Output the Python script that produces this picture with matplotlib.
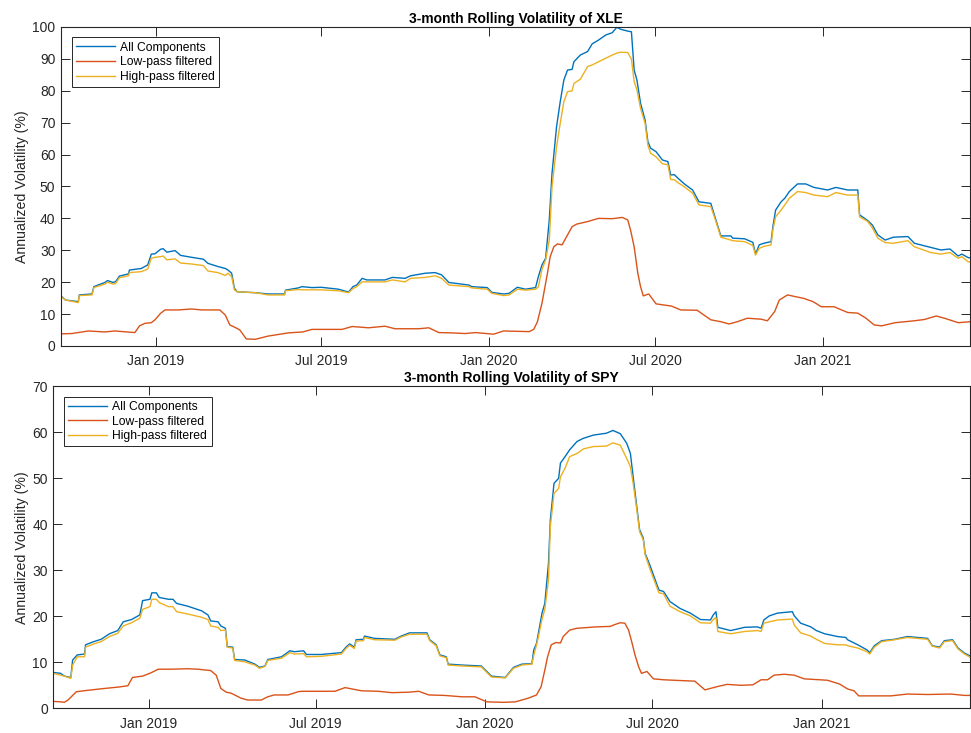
import pandas as pd
import matplotlib
matplotlib.use("Agg")
import matplotlib.pyplot as plt
import matplotlib.dates as mdates

plt.rcParams["font.family"] = ["Liberation Sans", "DejaVu Sans"]

# ---- XLE: all components / high-pass share the same dates ----
xle_dates = [
    "2018-09-19", "2018-09-24", "2018-10-08", "2018-10-09", "2018-10-23", "2018-10-25",
    "2018-11-06", "2018-11-09", "2018-11-15", "2018-11-18", "2018-11-22", "2018-12-02",
    "2018-12-03", "2018-12-16", "2018-12-23", "2018-12-27", "2018-12-31", "2019-01-06",
    "2019-01-09", "2019-01-13", "2019-01-22", "2019-01-28", "2019-02-09", "2019-02-22",
    "2019-02-27", "2019-03-10", "2019-03-18", "2019-03-21", "2019-03-25", "2019-03-28",
    "2019-03-31", "2019-04-20", "2019-05-04", "2019-05-22", "2019-05-23", "2019-06-06",
    "2019-06-10", "2019-06-21", "2019-07-01", "2019-07-20", "2019-07-31", "2019-08-05",
    "2019-08-09", "2019-08-15", "2019-08-20", "2019-09-09", "2019-09-17", "2019-10-01",
    "2019-10-07", "2019-10-23", "2019-11-03", "2019-11-10", "2019-11-18", "2019-12-10",
    "2019-12-13", "2019-12-30", "2020-01-04", "2020-01-17", "2020-01-23", "2020-02-01",
    "2020-02-10", "2020-02-21", "2020-02-24", "2020-02-28", "2020-03-03", "2020-03-07",
    "2020-03-10", "2020-03-15", "2020-03-19", "2020-03-23", "2020-03-27", "2020-04-01",
    "2020-04-03", "2020-04-10", "2020-04-18", "2020-04-23", "2020-04-30", "2020-05-08",
    "2020-05-15", "2020-05-20", "2020-05-24", "2020-06-01", "2020-06-05", "2020-06-08",
    "2020-06-11", "2020-06-15", "2020-06-20", "2020-06-23", "2020-06-26", "2020-07-02",
    "2020-07-09", "2020-07-15", "2020-07-18", "2020-07-22", "2020-07-26", "2020-08-02",
    "2020-08-11", "2020-08-18", "2020-08-31", "2020-09-05", "2020-09-11", "2020-09-22",
    "2020-09-24", "2020-10-07", "2020-10-16", "2020-10-19", "2020-10-23", "2020-10-28",
    "2020-11-05", "2020-11-07", "2020-11-10", "2020-11-16", "2020-11-20", "2020-11-25",
    "2020-12-04", "2020-12-13", "2020-12-22", "2021-01-06", "2021-01-15", "2021-01-28",
    "2021-02-08", "2021-02-10", "2021-02-19", "2021-02-24", "2021-03-02", "2021-03-10",
    "2021-03-19", "2021-04-04", "2021-04-11", "2021-04-29", "2021-05-10", "2021-05-20",
    "2021-05-29", "2021-06-02", "2021-06-09", "2021-06-11",
]
xle_all = [
    15.7, 14.4, 13.9, 16.0, 16.3, 18.6, 19.9, 20.5, 19.9, 20.2, 21.9, 22.6,
    23.8, 24.3, 25.4, 28.8, 28.9, 30.3, 30.5, 29.4, 29.9, 28.4, 27.8, 27.2,
    25.9, 24.9, 24.3, 23.8, 22.8, 18.1, 17.0, 16.7, 16.3, 16.3, 17.5, 18.2,
    18.6, 18.3, 18.4, 17.8, 16.9, 18.6, 19.1, 21.2, 20.7, 20.7, 21.5, 21.2,
    22.0, 22.8, 23.0, 22.3, 19.9, 19.1, 18.6, 18.3, 16.8, 16.3, 16.5, 18.4,
    17.8, 18.3, 21.7, 25.4, 27.5, 39.5, 54.1, 68.8, 76.6, 83.4, 86.5, 86.7,
    89.1, 91.2, 92.3, 94.7, 95.9, 97.5, 98.2, 99.9, 99.3, 98.7, 98.5, 86.5,
    83.4, 76.1, 70.8, 64.1, 62.0, 60.9, 58.3, 57.8, 53.6, 53.7, 52.6, 50.8,
    48.9, 45.2, 44.7, 40.0, 34.5, 34.5, 33.8, 33.6, 32.5, 28.8, 31.7, 32.2,
    32.7, 37.4, 42.6, 45.2, 46.3, 48.4, 50.8, 50.8, 49.7, 48.9, 49.7, 48.9,
    48.9, 41.1, 39.3, 37.9, 34.8, 33.2, 34.1, 34.3, 32.2, 30.9, 30.1, 30.4,
    28.2, 28.8, 27.7, 27.6,
]
xle_high = [
    15.5, 14.4, 13.6, 15.8, 16.0, 18.3, 19.4, 20.0, 19.4, 19.6, 21.4, 22.0,
    23.0, 23.3, 24.1, 27.5, 27.8, 28.0, 28.2, 27.0, 27.3, 26.0, 25.7, 25.2,
    23.5, 23.0, 22.1, 22.8, 21.7, 17.6, 17.0, 16.7, 16.0, 16.0, 17.3, 17.7,
    17.6, 17.6, 17.6, 17.3, 16.7, 18.0, 18.6, 20.1, 20.1, 20.1, 20.7, 20.1,
    21.2, 21.5, 22.0, 21.2, 19.1, 18.6, 18.2, 17.8, 16.5, 15.8, 16.0, 17.8,
    17.5, 17.8, 18.5, 24.0, 27.0, 33.2, 49.9, 62.5, 69.8, 76.6, 79.7, 80.0,
    82.3, 83.6, 87.6, 88.1, 89.1, 90.2, 91.2, 91.8, 92.1, 92.0, 89.9, 82.9,
    80.3, 74.5, 69.8, 63.0, 60.4, 59.3, 57.1, 56.8, 52.2, 52.1, 51.2, 49.9,
    47.9, 44.2, 43.7, 39.5, 34.1, 33.2, 33.0, 32.7, 31.5, 28.5, 30.6, 31.2,
    31.7, 36.4, 40.5, 42.6, 44.2, 46.3, 48.4, 48.1, 47.3, 46.8, 48.1, 47.3,
    47.3, 40.5, 39.0, 37.0, 33.8, 32.4, 32.2, 33.0, 31.1, 29.3, 28.8, 29.3,
    27.5, 28.0, 26.4, 26.3,
]
xle_low_dates = [
    "2018-09-19", "2018-10-01", "2018-10-19", "2018-11-06", "2018-11-17", "2018-12-09",
    "2018-12-14", "2018-12-20", "2018-12-27", "2018-12-31", "2019-01-06", "2019-01-11",
    "2019-01-26", "2019-02-09", "2019-02-20", "2019-03-12", "2019-03-18", "2019-03-23",
    "2019-03-31", "2019-04-03", "2019-04-10", "2019-04-20", "2019-05-04", "2019-05-26",
    "2019-06-11", "2019-06-21", "2019-07-24", "2019-08-04", "2019-08-22", "2019-09-09",
    "2019-09-20", "2019-10-16", "2019-10-27", "2019-11-07", "2019-11-21", "2019-12-06",
    "2019-12-17", "2020-01-06", "2020-01-17", "2020-02-14", "2020-02-19", "2020-02-23",
    "2020-02-28", "2020-03-05", "2020-03-08", "2020-03-12", "2020-03-16", "2020-03-21",
    "2020-03-27", "2020-04-01", "2020-04-06", "2020-04-18", "2020-04-30", "2020-05-15",
    "2020-05-26", "2020-06-01", "2020-06-04", "2020-06-08", "2020-06-12", "2020-06-15",
    "2020-06-18", "2020-06-24", "2020-07-02", "2020-07-19", "2020-07-29", "2020-08-16",
    "2020-08-31", "2020-09-11", "2020-09-20", "2020-09-29", "2020-10-10", "2020-10-25",
    "2020-11-01", "2020-11-09", "2020-11-14", "2020-11-23", "2020-12-11", "2020-12-21",
    "2020-12-30", "2021-01-13", "2021-01-28", "2021-02-08", "2021-02-17", "2021-02-26",
    "2021-03-06", "2021-03-21", "2021-04-11", "2021-04-22", "2021-05-05", "2021-05-14",
    "2021-05-29", "2021-06-11",
]
xle_low = [
    3.8, 3.9, 4.7, 4.4, 4.7, 4.2, 6.3, 7.1, 7.3, 8.2, 10.2, 11.3,
    11.3, 11.6, 11.3, 11.3, 9.7, 6.6, 5.5, 5.0, 2.2, 2.1, 3.1, 4.1,
    4.4, 5.2, 5.2, 6.1, 5.7, 6.2, 5.4, 5.4, 5.7, 4.2, 4.1, 3.9,
    4.2, 3.7, 4.7, 4.5, 5.2, 7.6, 13.4, 22.8, 28.0, 31.1, 32.0, 31.7,
    34.8, 37.4, 38.2, 39.0, 40.0, 39.9, 40.3, 39.5, 36.4, 31.1, 22.8, 18.6,
    15.7, 16.3, 13.2, 12.5, 11.3, 11.2, 8.2, 7.6, 6.9, 7.6, 8.7, 8.4,
    7.9, 10.8, 14.4, 16.0, 14.9, 13.9, 12.3, 12.3, 10.5, 10.3, 8.7, 6.6,
    6.3, 7.3, 7.9, 8.3, 9.4, 8.7, 7.3, 7.6,
]

# ---- SPY ----
spy_dates = [
    "2018-09-19", "2018-09-27", "2018-10-01", "2018-10-08", "2018-10-10", "2018-10-15",
    "2018-10-23", "2018-10-24", "2018-11-02", "2018-11-10", "2018-11-19", "2018-11-28",
    "2018-12-04", "2018-12-13", "2018-12-22", "2018-12-25", "2019-01-02", "2019-01-04",
    "2019-01-09", "2019-01-12", "2019-01-22", "2019-01-27", "2019-01-31", "2019-02-12",
    "2019-02-27", "2019-03-06", "2019-03-09", "2019-03-17", "2019-03-20", "2019-03-25",
    "2019-03-27", "2019-04-02", "2019-04-04", "2019-04-15", "2019-04-26", "2019-05-01",
    "2019-05-07", "2019-05-10", "2019-05-25", "2019-06-03", "2019-06-08", "2019-06-18",
    "2019-06-21", "2019-07-07", "2019-07-29", "2019-08-03", "2019-08-07", "2019-08-12",
    "2019-08-14", "2019-08-22", "2019-08-23", "2019-09-03", "2019-09-25", "2019-10-02",
    "2019-10-11", "2019-10-30", "2019-11-02", "2019-11-09", "2019-11-13", "2019-11-20",
    "2019-11-22", "2019-12-07", "2019-12-28", "2020-01-08", "2020-01-23", "2020-02-01",
    "2020-02-10", "2020-02-21", "2020-02-23", "2020-02-26", "2020-02-28", "2020-03-03",
    "2020-03-06", "2020-03-10", "2020-03-12", "2020-03-16", "2020-03-21", "2020-03-23",
    "2020-03-28", "2020-04-02", "2020-04-10", "2020-04-17", "2020-04-28", "2020-05-12",
    "2020-05-19", "2020-05-27", "2020-06-03", "2020-06-07", "2020-06-10", "2020-06-14",
    "2020-06-17", "2020-06-21", "2020-06-23", "2020-06-28", "2020-07-08", "2020-07-13",
    "2020-07-20", "2020-07-31", "2020-08-11", "2020-08-22", "2020-09-02", "2020-09-05",
    "2020-09-08", "2020-09-10", "2020-09-24", "2020-10-09", "2020-10-23", "2020-10-27",
    "2020-10-30", "2020-11-05", "2020-11-14", "2020-11-30", "2020-12-02", "2020-12-09",
    "2020-12-20", "2020-12-26", "2021-01-04", "2021-01-18", "2021-01-27", "2021-01-29",
    "2021-02-09", "2021-02-19", "2021-02-22", "2021-02-27", "2021-03-07", "2021-03-21",
    "2021-04-04", "2021-04-26", "2021-05-01", "2021-05-09", "2021-05-14", "2021-05-23",
    "2021-05-29", "2021-06-05", "2021-06-11",
]
spy_all = [
    7.8, 7.6, 7.0, 6.7, 10.5, 11.6, 11.8, 13.8, 14.5, 15.0, 16.2, 16.9,
    18.8, 19.3, 20.3, 23.4, 23.7, 25.1, 25.1, 24.1, 23.7, 23.7, 22.8, 22.2,
    21.2, 20.3, 19.0, 18.8, 17.9, 17.4, 13.4, 13.3, 10.6, 10.5, 9.6, 8.9,
    9.2, 10.6, 11.2, 12.5, 12.3, 12.5, 11.7, 11.7, 12.1, 13.3, 14.0, 13.3,
    14.9, 15.0, 15.7, 15.2, 15.0, 15.7, 16.4, 16.4, 14.9, 13.8, 11.6, 11.2,
    9.6, 9.4, 9.2, 7.0, 6.7, 8.9, 9.6, 9.7, 12.7, 14.1, 16.3, 20.7,
    22.8, 31.5, 40.9, 48.9, 50.0, 53.3, 54.7, 56.2, 58.0, 58.7, 59.4, 59.8,
    60.4, 59.7, 57.6, 55.4, 50.3, 43.8, 38.8, 37.0, 33.7, 31.2, 25.7, 25.4,
    23.2, 21.7, 20.7, 19.3, 19.2, 20.3, 21.0, 17.6, 16.9, 17.6, 17.7, 17.4,
    19.2, 20.1, 20.7, 21.0, 20.1, 18.5, 17.7, 16.9, 16.2, 15.6, 15.4, 14.9,
    13.8, 12.7, 12.1, 13.6, 14.7, 15.0, 15.6, 15.2, 13.6, 13.3, 14.7, 14.9,
    13.1, 12.0, 11.4,
]
spy_high = [
    7.6, 7.2, 7.0, 6.5, 9.4, 11.2, 11.2, 13.3, 14.0, 14.5, 15.6, 16.3,
    17.9, 18.6, 19.6, 21.5, 22.1, 23.7, 23.7, 23.0, 22.1, 22.1, 21.0, 20.5,
    19.8, 19.3, 17.9, 17.6, 16.9, 17.0, 13.3, 13.1, 10.4, 10.1, 9.4, 8.7,
    9.1, 10.4, 10.9, 12.1, 11.8, 11.9, 11.2, 11.3, 11.8, 13.0, 13.7, 13.0,
    14.6, 14.7, 15.4, 14.9, 14.8, 15.5, 16.1, 16.1, 14.7, 13.6, 11.4, 11.0,
    9.4, 9.2, 9.0, 6.8, 6.6, 8.7, 9.4, 9.6, 11.5, 13.8, 15.5, 19.4,
    21.5, 27.9, 39.5, 46.7, 47.8, 50.3, 52.2, 54.7, 55.4, 56.4, 56.9, 57.0,
    57.7, 57.2, 54.3, 52.5, 48.9, 43.1, 38.4, 36.6, 33.4, 30.4, 25.1, 24.9,
    22.2, 21.0, 20.1, 18.6, 18.5, 19.3, 19.7, 16.7, 16.2, 16.7, 16.9, 16.7,
    18.5, 18.8, 19.2, 19.4, 18.1, 16.4, 15.7, 15.0, 14.1, 13.8, 13.8, 13.6,
    13.1, 12.3, 11.8, 13.3, 14.5, 14.9, 15.4, 15.0, 13.5, 13.1, 14.5, 14.7,
    12.9, 11.8, 11.1,
]
spy_low_dates = [
    "2018-09-19", "2018-09-27", "2018-10-01", "2018-10-05", "2018-10-14", "2018-10-26",
    "2018-11-13", "2018-11-28", "2018-12-09", "2018-12-14", "2018-12-25", "2019-01-03",
    "2019-01-11", "2019-01-25", "2019-02-12", "2019-02-23", "2019-03-09", "2019-03-15",
    "2019-03-20", "2019-03-26", "2019-03-31", "2019-04-11", "2019-04-18", "2019-05-03",
    "2019-05-10", "2019-05-17", "2019-06-01", "2019-06-12", "2019-06-16", "2019-07-22",
    "2019-08-02", "2019-08-20", "2019-09-07", "2019-09-22", "2019-10-10", "2019-10-21",
    "2019-11-01", "2019-11-18", "2019-12-07", "2019-12-21", "2020-01-03", "2020-01-21",
    "2020-02-03", "2020-02-17", "2020-02-26", "2020-03-02", "2020-03-06", "2020-03-09",
    "2020-03-13", "2020-03-18", "2020-03-23", "2020-03-26", "2020-04-02", "2020-04-10",
    "2020-05-01", "2020-05-16", "2020-05-21", "2020-05-27", "2020-06-01", "2020-06-05",
    "2020-06-08", "2020-06-12", "2020-06-16", "2020-06-19", "2020-06-25", "2020-07-02",
    "2020-07-13", "2020-08-04", "2020-08-16", "2020-08-27", "2020-09-09", "2020-09-20",
    "2020-10-05", "2020-10-18", "2020-10-27", "2020-11-03", "2020-11-10", "2020-11-21",
    "2020-12-02", "2020-12-13", "2021-01-07", "2021-01-20", "2021-01-29", "2021-02-05",
    "2021-02-10", "2021-02-23", "2021-03-17", "2021-04-04", "2021-04-26", "2021-05-21",
    "2021-06-05", "2021-06-11",
]
spy_low = [
    1.5, 1.4, 1.3, 1.8, 3.6, 3.9, 4.3, 4.6, 4.9, 6.7, 7.0, 7.7,
    8.5, 8.5, 8.6, 8.5, 8.2, 7.2, 4.3, 3.5, 3.3, 2.2, 1.8, 1.8,
    2.5, 2.9, 2.9, 3.6, 3.7, 3.7, 4.5, 3.8, 3.7, 3.4, 3.5, 3.7,
    2.9, 2.8, 2.5, 2.5, 1.4, 1.3, 1.4, 2.2, 2.9, 4.7, 8.3, 11.2,
    13.8, 14.3, 14.2, 15.6, 17.0, 17.4, 17.7, 17.8, 18.2, 18.6, 18.5, 17.0,
    14.8, 11.6, 9.0, 7.6, 8.0, 6.4, 6.2, 6.0, 5.9, 4.0, 4.7, 5.2,
    5.0, 5.1, 6.2, 6.2, 7.2, 7.4, 7.2, 6.4, 6.1, 5.3, 4.2, 3.8,
    2.7, 2.7, 2.7, 3.1, 3.0, 3.1, 2.8, 2.8,
]

labels = ["All Components", "Low-pass filtered", "High-pass filtered"]
c_all, c_low, c_high = "#0072BD", "#D95319", "#EDB120"
ink = "#262626"


def draw_panel(ax, dates, all_vals, high_vals, low_dates, low_vals, name, ymax):
    d = pd.to_datetime(dates)
    dl = pd.to_datetime(low_dates)
    ax.plot(d, all_vals, color=c_all, lw=1.0, label=labels[0])
    ax.plot(dl, low_vals, color=c_low, lw=1.0, label=labels[1])
    ax.plot(d, high_vals, color=c_high, lw=1.0, label=labels[2])
    ax.set_xlim(d[0], d[-1])
    ax.set_ylim(0, ymax)
    ax.set_yticks(range(0, ymax + 1, 10))
    ax.set_xticks(pd.to_datetime(["2019-01-01", "2019-07-01", "2020-01-01",
                                  "2020-07-01", "2021-01-01"]))
    ax.xaxis.set_major_formatter(mdates.DateFormatter("%b %Y"))
    ax.tick_params(direction="in", length=6.5, width=0.7, colors=ink,
                   labelsize=10, top=True, right=True)
    ax.tick_params(axis="x", pad=6)
    ax.tick_params(axis="y", pad=4)
    for s in ax.spines.values():
        s.set_color(ink)
        s.set_linewidth(0.8)
    ax.set_title("3-month Rolling Volatility of " + name, fontsize=10,
                 fontweight="bold", pad=3)
    ax.set_ylabel("Annualized Volatility (%)", fontsize=10.2, color=ink)
    leg = ax.legend(loc="upper left", bbox_to_anchor=(0.0118, 0.9677),
                    borderaxespad=0, fontsize=8.7, fancybox=False,
                    framealpha=1, edgecolor=ink, handlelength=3.2,
                    handletextpad=0.45, labelspacing=0.22, borderpad=0.35)
    leg.get_frame().set_linewidth(0.7)
    return leg


fig = plt.figure(figsize=(9.71, 7.33), dpi=100)
ax1 = fig.add_axes([0.0628, 0.5280, 0.9362, 0.4352])
ax2 = fig.add_axes([0.0549, 0.0337, 0.9441, 0.4393])

draw_panel(ax1, xle_dates, xle_all, xle_high, xle_low_dates, xle_low, "XLE", 100)
draw_panel(ax2, spy_dates, spy_all, spy_high, spy_low_dates, spy_low, "SPY", 70)
ax1.yaxis.set_label_coords(-0.0350, 0.5)
ax2.yaxis.set_label_coords(-0.0263, 0.5)

fig.savefig("out.png", dpi=100)
